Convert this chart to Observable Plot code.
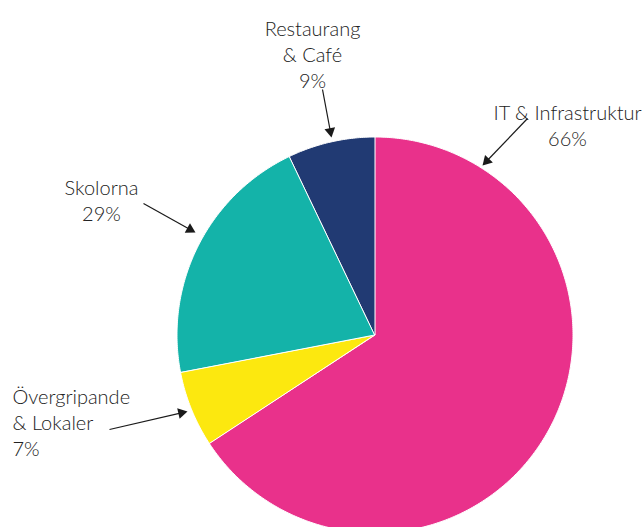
<!DOCTYPE html>
<html><head><meta charset="utf-8">
<script src="https://cdn.jsdelivr.net/npm/d3@7"></script>
<script src="https://cdn.jsdelivr.net/npm/@observablehq/plot@0.6"></script>
<style>body{margin:0;overflow:hidden;background:#fff}</style>
</head><body><div id="chart"></div>
<script>
// Data
const categories = ["IT & Infrastruktur", "Övergripande & Lokaler", "Skolorna", "Restaurang & Café"];
const values = [65.8, 6.2, 20.9, 7.1];           // slice sizes as drawn
const labelNames = ["IT & Infrastruktur", "Övergripande\n& Lokaler", "Skolorna", "Restaurang\n& Café"];
const labelPct = ["66%", "7%", "29%", "9%"];       // printed labels
const colors = ["#E9318B", "#FCE80F", "#14B3A9", "#213A73"];

// Layout (pixels)
const CX = 375, CY = 335, R = 198;
const toX = px => (px - CX) / R, toY = py => (CY - py) / R;
const layout = [
  {tx: 567, ty: 124, anchor: "middle", from: [527, 118], to: [482, 165]},
  {tx: 12,  ty: 421, anchor: "start",  from: [109, 429], to: [187, 411]},
  {tx: 101, ty: 199, anchor: "middle", from: [143, 203], to: [195, 232]},
  {tx: 312, ty: 53,  anchor: "middle", from: [322, 89],  to: [331, 137]}
];

const pie = d3.pie().sort(null).value(d => d.value)(categories.map((c, i) => ({c, value: values[i]})));
const arcPts = [];
pie.forEach(p => {
  const n = Math.max(2, Math.ceil((p.endAngle - p.startAngle) / 0.01));
  for (let k = 0; k <= n; k++) {
    const a = p.startAngle + (p.endAngle - p.startAngle) * k / n;
    arcPts.push({cat: p.data.c, x: Math.sin(a), y: Math.cos(a)});
  }
});

const HEAD_R = 4;
const labels = categories.map((c, i) => {
  const L = layout[i];
  const [fx, fy] = L.from, [tx, ty] = L.to;
  const dx = tx - fx, dy = ty - fy, len = Math.hypot(dx, dy);
  const back = 2 * 0.7776 * HEAD_R;
  const hx = tx - dx / len * back, hy = ty - dy / len * back;
  return {
    cat: c,
    text: labelNames[i] + "\n" + labelPct[i],
    x: toX(L.tx), y: toY(L.ty), anchor: L.anchor,
    x1: toX(fx), y1: toY(fy), x2: toX(hx), y2: toY(hy),
    rot: Math.atan2(dx, -dy) * 180 / Math.PI
  };
});

const chart = Plot.plot({
  width: 644, height: 527, margin: 0,
  x: {domain: [-1, 1], range: [CX - R, CX + R], axis: null},
  y: {domain: [-1, 1], range: [CY + R, CY - R], axis: null},
  color: {domain: categories, range: colors},
  style: {background: "#fff", overflow: "hidden"},
  marks: [
    Plot.area(arcPts, {x1: () => 0, y1: () => 0, x2: "x", y2: "y", z: "cat", fill: "cat", stroke: "#fff", strokeWidth: 1, curve: "linear"}),
    Plot.link(labels, {x1: "x1", y1: "y1", x2: "x2", y2: "y2", stroke: "#1a1a1a", strokeWidth: 1.2}),
    Plot.dot(labels, {x: "x2", y: "y2", symbol: "triangle", r: HEAD_R, fill: "#1a1a1a", stroke: "none", rotate: "rot"}),
    ...["middle", "start"].map(a => Plot.text(labels.filter(d => d.anchor === a), {
      x: "x", y: "y", text: "text", textAnchor: a, lineHeight: 1.32,
      fontSize: 20, fontFamily: "Lato", fontWeight: 300, fill: "#222"
    }))
  ]
});
document.getElementById("chart").append(chart);
</script>
</body></html>
